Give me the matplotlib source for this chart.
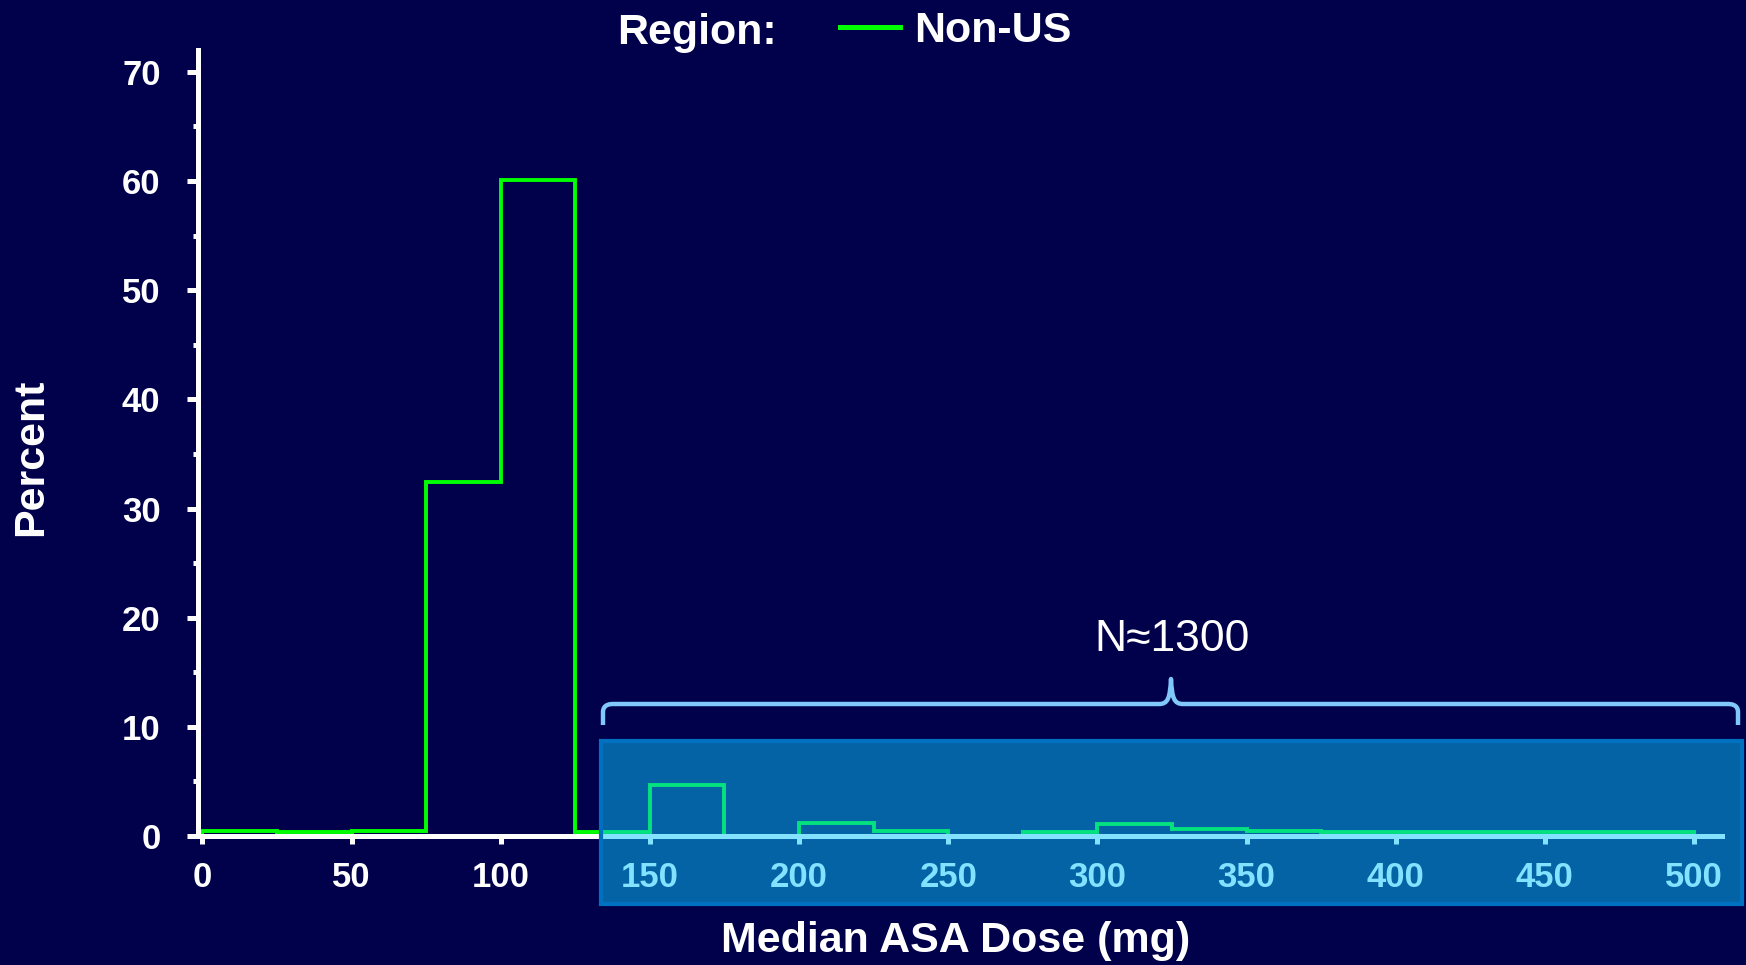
import matplotlib
matplotlib.use("Agg")
import matplotlib.pyplot as plt
from matplotlib.lines import Line2D
from matplotlib.patches import Rectangle, PathPatch
from matplotlib.path import Path
import numpy as np

# histogram of median ASA dose, bins of 25 mg
bin_edges = np.arange(0, 525, 25)
percent = [0.45, 0.35, 0.45, 32.4, 60.1, 0.4, 4.7, 0.0, 1.2, 0.45,
           0.0, 0.4, 1.1, 0.65, 0.45, 0.4, 0.4, 0.4, 0.4, 0.4]
x_ticks = list(range(0, 501, 50))
y_ticks = list(range(0, 71, 10))
region_label = "Non-US"
n_text = "N\u22481300"

navy = "#00004b"
green = "#00ff00"
W, H = 1746, 965

plt.rcParams['font.family'] = ['Liberation Sans', 'DejaVu Sans']

fig = plt.figure(figsize=(W / 100, H / 100), dpi=100, facecolor=navy)
ax = fig.add_axes([198 / W, 1 - 836 / H, (1722 - 198) / W, (836 - 50) / H])
ax.set_facecolor(navy)

ax.stairs(percent, bin_edges, baseline=0, color=green, lw=2.8, fill=False)

ax.set_xlim(-1.5, 509.4)
ax.set_ylim(0, 72)
ax.set_xticks(x_ticks)
ax.set_yticks(y_ticks)
ax.set_yticks(np.arange(5, 70, 10), minor=True)

for s in ['top', 'right']:
    ax.spines[s].set_visible(False)
for s in ['left', 'bottom']:
    ax.spines[s].set_color('white')
    ax.spines[s].set_linewidth(3.6)

ax.tick_params(axis='y', which='major', direction='out', length=8, width=3.6,
               color='white', labelcolor='white', labelsize=25, pad=19)
ax.tick_params(axis='y', which='minor', direction='out', length=3.6, width=3.6,
               color='white')
ax.tick_params(axis='x', which='major', direction='out', length=6, width=3.6,
               color='white', labelcolor='white', labelsize=25, pad=12)
for lab in ax.get_xticklabels() + ax.get_yticklabels():
    lab.set_fontweight('bold')

ax.set_xlabel("Median ASA Dose (mg)", color='white', fontsize=31, fontweight='bold')
ax.xaxis.set_label_coords(0.497, -0.108)
ax.set_ylabel("Percent", color='white', fontsize=31, fontweight='bold')
ax.yaxis.set_label_coords(-0.0965, 0.482)

# legend row at the top
fig.text(617 / W, 1 - 44 / H, "Region:", color='white', fontsize=31,
         fontweight='bold', ha='left', va='baseline')
proxy = Line2D([], [], color=green, lw=3.6)
fig.legend(handles=[proxy], labels=[region_label], loc='center left',
           bbox_to_anchor=(840 / W, 1 - 31 / H), frameon=False, borderpad=0,
           borderaxespad=0, handlelength=1.4, handletextpad=0.33,
           prop={'size': 31, 'weight': 'bold'}, labelcolor='white')

# translucent highlight box over the upper dose range
box_fill = Rectangle((601 / W, 1 - 904 / H), (1742 - 601) / W, (904 - 741) / H,
                     transform=fig.transFigure, facecolor=(0.03, 0.78, 1.0),
                     alpha=0.5, edgecolor='none', zorder=10)
box_edge = Rectangle((601 / W, 1 - 904 / H), (1742 - 601) / W, (904 - 741) / H,
                     transform=fig.transFigure, facecolor='none',
                     edgecolor='#0070c0', lw=3, zorder=11)
fig.add_artist(box_fill)
fig.add_artist(box_edge)

# curly brace above the box
def fp(x, y):
    return (x / W, 1 - y / H)

xl, xr, xm = 603, 1738, 1171
yb, yh, yp = 725, 704, 679
verts = [fp(xl, yb), fp(xl, yh + 8),
         fp(xl, yh), fp(xl + 8, yh), fp(xl + 10, yh),
         fp(xm - 12, yh),
         fp(xm - 3, yh), fp(xm - 1, yh - 6), fp(xm, yp),
         fp(xm + 1, yh - 6), fp(xm + 3, yh), fp(xm + 12, yh),
         fp(xr - 10, yh),
         fp(xr - 8, yh), fp(xr, yh), fp(xr, yh + 8),
         fp(xr, yb)]
codes = [Path.MOVETO, Path.LINETO,
         Path.CURVE4, Path.CURVE4, Path.CURVE4,
         Path.LINETO,
         Path.CURVE4, Path.CURVE4, Path.CURVE4,
         Path.CURVE4, Path.CURVE4, Path.CURVE4,
         Path.LINETO,
         Path.CURVE4, Path.CURVE4, Path.CURVE4,
         Path.LINETO]
brace = PathPatch(Path(verts, codes), transform=fig.transFigure,
                  facecolor='none', edgecolor='#80c8f8', lw=3.2,
                  capstyle='butt', joinstyle='round')
fig.add_artist(brace)
fig.text(1172 / W, 1 - 651 / H, n_text, color='white', fontsize=32,
         ha='center', va='baseline')

fig.savefig("out.png", dpi=100, facecolor=navy)
